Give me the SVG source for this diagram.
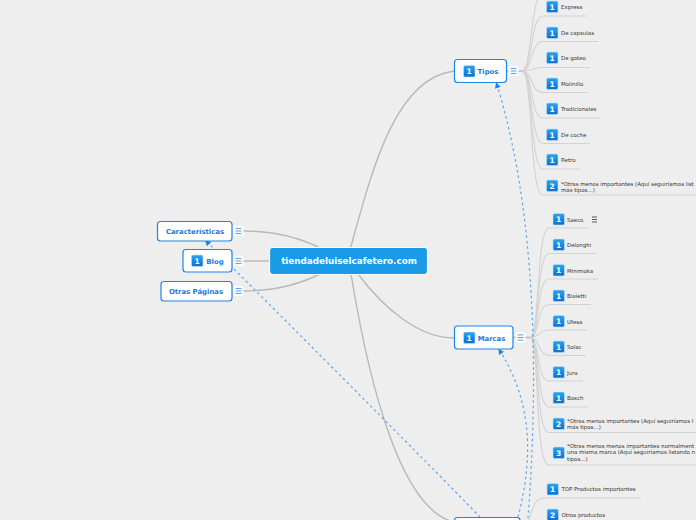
<svg xmlns="http://www.w3.org/2000/svg" width="696" height="520" viewBox="0 0 696 520">
<style>
text{font-family:"DejaVu Sans",Verdana,sans-serif}
.main{fill:none;stroke:#b8b8b8;stroke-width:1.4}
.sub{fill:none;stroke:#d2d2d2;stroke-width:1.1}
.dash{fill:none;stroke:#5aa5f2;stroke-width:1.2;stroke-dasharray:2.5 3}
.node{fill:#fff;stroke:#1a86ec;stroke-width:1.2}
.lbl{font-size:6.9px;font-weight:700;fill:#1a78d8;text-anchor:middle}
.leaf{font-size:5.45px;fill:#333}
.num{font-size:7.5px;font-weight:700;fill:#fff;text-anchor:middle}
.ic{fill:url(#g);stroke:#bfe0f8;stroke-width:.6}
.mbox{fill:#fff}
.mline{stroke:#4a90e2;stroke-width:.9}
.dline{stroke:#444;stroke-width:.9}
</style>
<defs>
<linearGradient id="g" x1="0" y1="0" x2="0" y2="1"><stop offset="0" stop-color="#2aa5ee"/><stop offset="1" stop-color="#0a6fd0"/></linearGradient>
<marker id="ah" markerWidth="6" markerHeight="6" refX="2.5" refY="2.5" orient="auto"><path d="M0 0L5 2.5L0 5Z" fill="#1a86ec"/></marker>
<g id="menu"><rect class="mbox" x="-5" y="-5" width="10" height="10" rx="1.5"/><path class="mline" d="M-3-2.6H3M-3 0H3M-3 2.6H3"/></g>
<g id="i1"><rect class="ic" x="0" y="0" width="11.5" height="11.5" rx="1.5"/></g>
</defs>
<rect width="696" height="520" fill="#eeeeee"/>
<g id="connectors">
<path class="main" d="M350 250C372 170 395 78 454 71"/>
<path class="main" d="M358 274C385 310 420 338 454 338"/>
<path class="main" d="M351 274C370 390 402 510 454 522"/>
<path class="main" d="M243 231C275 231 300 238 320 248"/>
<path class="main" d="M243 261H270"/>
<path class="main" d="M243 291C275 291 300 284 320 274"/>
<path class="main" d="M506 71H509M518 71H522"/>
<path class="main" d="M513 337.500H516M525 337.500H530"/>
<g id="tipos-links">
<path class="sub" d="M522 71C532 71 530 -10 545 -10H580"/>
<path class="sub" d="M522 71C533 71 530 16 543 16H586.500"/>
<path class="sub" d="M522 71C533 71 530 41.500 543 41.500H598"/>
<path class="sub" d="M522 71C533 71 532 67.500 543 67.500H590"/>
<path class="sub" d="M522 71C533 71 530 92.500 543 92.500H587.500"/>
<path class="sub" d="M522 71C533 71 530 118 543 118H600.500"/>
<path class="sub" d="M522 71C533 71 530 143.500 543 143.500H590"/>
<path class="sub" d="M522 71C533 71 530 169 543 169H580"/>
<path class="sub" d="M522 71C533 71 529 195 543 195H696"/>
</g>
<g id="marcas-links">
<path class="sub" d="M530 337.500C540 337.500 536 228 549 228H588"/>
<path class="sub" d="M530 337.500C540 337.500 536 253.500 549 253.500H596"/>
<path class="sub" d="M530 337.500C540 337.500 536 279 549 279H598"/>
<path class="sub" d="M530 337.500C540 337.500 536 304.500 549 304.500H591"/>
<path class="sub" d="M530 337.500C540 337.500 538 330 549 330H587"/>
<path class="sub" d="M530 337.500C540 337.500 538 355.500 549 355.500H586"/>
<path class="sub" d="M530 337.500C540 337.500 536 381 549 381H583"/>
<path class="sub" d="M530 337.500C540 337.500 536 407 549 407H588"/>
<path class="sub" d="M530 337.500C540 337.500 535 432.500 549 432.500H696"/>
<path class="sub" d="M530 337.500C540 337.500 534 465 549 465H696"/>
</g>
<g id="otros-links">
<path class="sub" d="M527 525C533 510 533 498 545 498H641"/>
<path class="sub" d="M527 525C534 525 534 524 545 524H610"/>
</g>
<path class="dash" marker-end="url(#ah)" d="M528 518C534 440 545 240 497 85"/>
<path class="dash" marker-end="url(#ah)" d="M518 517C530 470 537 410 500 351"/>
<path class="dash" marker-end="url(#ah)" d="M480 517C420 455 270 305 207 242"/>
</g>
<g id="root"><rect x="269.500" y="247.500" width="158" height="27" rx="3" fill="#1a9be8" stroke="#fff" stroke-width="1.200"/><text x="349" y="264" font-size="8.800" font-weight="700" fill="#fff" text-anchor="middle">tiendadeluiselcafetero.com</text></g>
<g id="caracteristicas"><rect class="node" x="157.500" y="221.500" width="74.500" height="19.500" rx="3"/><text class="lbl" x="195" y="234">Características</text><use href="#menu" x="238.500" y="231"/></g>
<g id="blog"><rect class="node" x="183" y="249.500" width="49" height="22.500" rx="3"/><use href="#i1" x="191.500" y="255"/><text class="num" x="197.200" y="263.700">1</text><text class="lbl" x="215" y="264">Blog</text><use href="#menu" x="238.500" y="261"/></g>
<g id="otras-paginas"><rect class="node" x="161" y="281.500" width="71" height="19.500" rx="3"/><text class="lbl" x="196" y="294">Otras Páginas</text><use href="#menu" x="238.500" y="291"/></g>
<g id="tipos"><rect class="node" x="454.500" y="59.500" width="52" height="23" rx="3"/><use href="#i1" x="463.500" y="65.500"/><text class="num" x="469.200" y="74.200">1</text><text class="lbl" x="488" y="74">Tipos</text><use href="#menu" x="513.500" y="71"/></g>
<g id="marcas"><rect class="node" x="454.500" y="326" width="58.500" height="23" rx="3"/><use href="#i1" x="463.500" y="332"/><text class="num" x="469.200" y="340.700">1</text><text class="lbl" x="491.500" y="340.500">Marcas</text><use href="#menu" x="520.500" y="337.500"/></g>
<g id="productos"><rect class="node" x="454.500" y="517.500" width="65.500" height="24" rx="3"/></g>
<g id="express"><use href="#i1" x="546.500" y="1"/><text class="num" x="552.200" y="9.700">1</text><text class="leaf" x="561" y="9">Express</text></g>
<g id="capsulas"><use href="#i1" x="546.500" y="27"/><text class="num" x="552.200" y="35.700">1</text><text class="leaf" x="561" y="35">De capsulas</text></g>
<g id="goteo"><use href="#i1" x="546.500" y="52"/><text class="num" x="552.200" y="60.700">1</text><text class="leaf" x="561" y="60">De goteo</text></g>
<g id="molinillo"><use href="#i1" x="546.500" y="78"/><text class="num" x="552.200" y="86.700">1</text><text class="leaf" x="561" y="86">Molinillo</text></g>
<g id="tradicionales"><use href="#i1" x="546.500" y="103"/><text class="num" x="552.200" y="111.700">1</text><text class="leaf" x="561" y="111">Tradicionales</text></g>
<g id="coche"><use href="#i1" x="546.500" y="129"/><text class="num" x="552.200" y="137.700">1</text><text class="leaf" x="561" y="137">De coche</text></g>
<g id="retro"><use href="#i1" x="546.500" y="154"/><text class="num" x="552.200" y="162.700">1</text><text class="leaf" x="561" y="162">Retro</text></g>
<g id="otras-tipos"><use href="#i1" x="546.500" y="180"/><text class="num" x="552.200" y="188.700">2</text><text class="leaf" x="561" y="185.500">*Otras menos importantes (Aquí seguiríamos list</text><text class="leaf" x="561" y="191.500">más tipos...)</text></g>
<g id="saeco"><use href="#i1" x="553" y="213.500"/><text class="num" x="558.700" y="222.200">1</text><text class="leaf" x="567" y="221.500">Saeco</text><path class="dline" d="M592 217H597M592 219.500H597M592 222H597"/></g>
<g id="delonghi"><use href="#i1" x="553" y="239"/><text class="num" x="558.700" y="247.700">1</text><text class="leaf" x="567" y="247">Delonghi</text></g>
<g id="minimoka"><use href="#i1" x="553" y="264.500"/><text class="num" x="558.700" y="273.200">1</text><text class="leaf" x="567" y="272.500">Minimoka</text></g>
<g id="bialetti"><use href="#i1" x="553" y="290"/><text class="num" x="558.700" y="298.700">1</text><text class="leaf" x="567" y="298">Bialetti</text></g>
<g id="ufesa"><use href="#i1" x="553" y="315.500"/><text class="num" x="558.700" y="324.200">1</text><text class="leaf" x="567" y="323.500">Ufesa</text></g>
<g id="solac"><use href="#i1" x="553" y="341"/><text class="num" x="558.700" y="349.700">1</text><text class="leaf" x="567" y="349">Solac</text></g>
<g id="jura"><use href="#i1" x="553" y="366.500"/><text class="num" x="558.700" y="375.200">1</text><text class="leaf" x="567" y="374.500">Jura</text></g>
<g id="bosch"><use href="#i1" x="553" y="392"/><text class="num" x="558.700" y="400.700">1</text><text class="leaf" x="567" y="400">Bosch</text></g>
<g id="otras-marcas"><use href="#i1" x="553" y="418"/><text class="num" x="558.700" y="426.700">2</text><text class="leaf" x="567" y="422.500">*Otras menos importantes (Aquí seguiríamos l</text><text class="leaf" x="567" y="429">más tipos...)</text></g>
<g id="otras-menos"><use href="#i1" x="553" y="447"/><text class="num" x="558.700" y="455.700">3</text><text class="leaf" x="567" y="447.500">*Otras menos menos importantes normalment</text><text class="leaf" x="567" y="454">una misma marca (Aquí seguiríamos listando n</text><text class="leaf" x="567" y="460.500">tipos...)</text></g>
<g id="top"><use href="#i1" x="547" y="483.500"/><text class="num" x="552.700" y="492.200">1</text><text class="leaf" x="561.500" y="491">TOP Productos importantes</text></g>
<g id="otros"><use href="#i1" x="547" y="509"/><text class="num" x="552.700" y="517.700">2</text><text class="leaf" x="561.500" y="517">Otros productos</text></g>
</svg>
